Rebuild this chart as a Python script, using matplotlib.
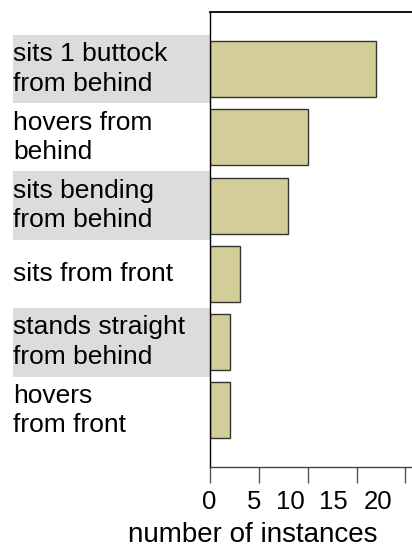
import matplotlib
matplotlib.use("Agg")
import matplotlib.pyplot as plt
from matplotlib.patches import Rectangle
from matplotlib.transforms import blended_transform_factory, ScaledTranslation

categories = [
    "sits 1 buttock\nfrom behind",
    "hovers from\nbehind",
    "sits bending\nfrom behind",
    "sits from front",
    "stands straight\nfrom behind",
    "hovers\nfrom front",
]
values = [17, 10, 8, 3, 2, 2]
xticks = [0, 5, 10, 15, 20]
xtick_labels = ["0", "5", "10", "15", "20"]
xlabel = "number of instances"

plt.rcParams['font.family'] = ['Liberation Sans', 'DejaVu Sans']

W, H = 412, 547
fig = plt.figure(figsize=(W / 100, H / 100), dpi=100)

ax_left = 210.3 / W
ax_top = 12 / H
ax_bottom = 467.3 / H
px_per_unit = 9.75
xmax = 25
ax_w = px_per_unit * xmax / W
ax = fig.add_axes([ax_left, 1 - ax_bottom, ax_w, ax_bottom - ax_top])

y = list(range(len(categories)))
ax.barh(y, values, height=0.82, color="#d3ce98", edgecolor="#333333", linewidth=1.0)
ax.set_ylim(5.835, -0.835)
ax.set_xlim(0, xmax)

ax.set_yticks([])
ax.set_xticks(xticks)
ax.set_xticklabels(xtick_labels, fontsize=18.5)
ax.tick_params(axis='x', length=11.5, width=1.0, color="#555555", pad=5)

# shift tick labels to match reference
offsets_px = [-1, -5, -17, -23, -27]
for lab, off in zip(ax.get_xticklabels(), offsets_px):
    lab.set_transform(lab.get_transform() + ScaledTranslation(off / 100, 0, fig.dpi_scale_trans))

for s in ['right']:
    ax.spines[s].set_visible(False)
ax.spines['top'].set_color('black')
ax.spines['top'].set_linewidth(1.3)
ax.spines['left'].set_color('black')
ax.spines['left'].set_linewidth(1.0)
ax.spines['bottom'].set_color('#444444')
ax.spines['bottom'].set_linewidth(1.0)

# category labels with alternating gray bands
tr = blended_transform_factory(ax.transAxes, ax.transData)
band_left = -(210.3 - 13) / (px_per_unit * xmax)
for i, cat in enumerate(categories):
    if i % 2 == 0:
        ax.add_patch(Rectangle((band_left, i - 0.505), -band_left, 1.01,
                               transform=tr, facecolor="#dcdcdc",
                               edgecolor='none', clip_on=False, zorder=0))
    ax.text(band_left, i, cat, transform=tr, ha='left', va='center',
            fontsize=19, linespacing=1.27, color='black')

ax.set_xlabel(xlabel, fontsize=20)
ax.xaxis.set_label_coords((253 - 210.3) / (px_per_unit * xmax), -0.12)
ax.xaxis.label.set_va('top')

fig.savefig("out.png", dpi=100)
